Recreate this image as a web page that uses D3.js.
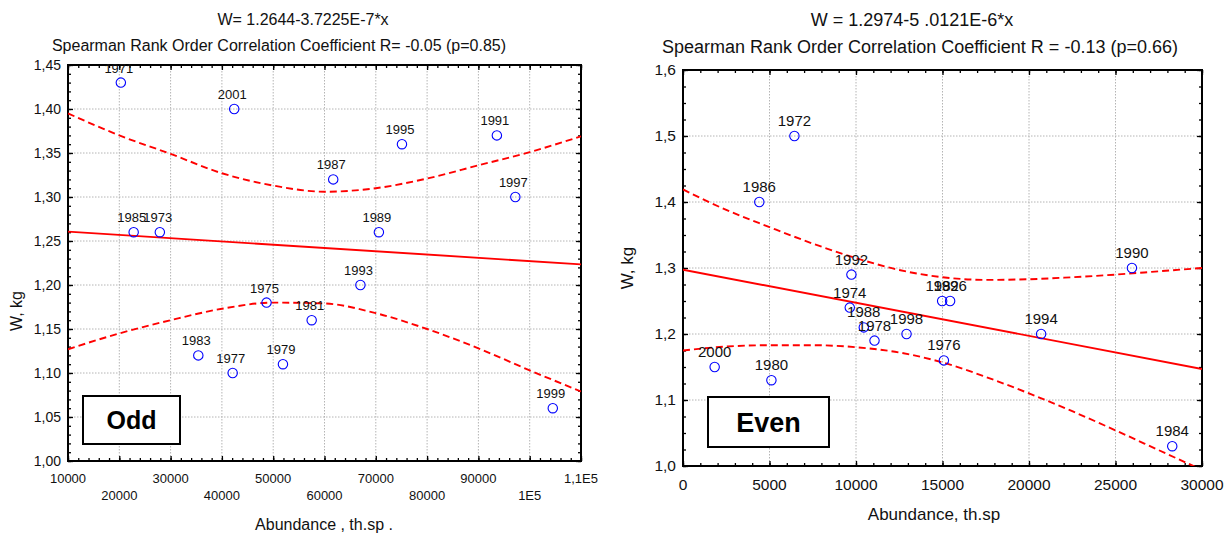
<!DOCTYPE html>
<html>
<head>
<meta charset="utf-8">
<script src="https://cdn.jsdelivr.net/npm/d3@7"></script>
<style>
  html, body { margin: 0; padding: 0; background: #fff; }
  svg { display: block; font-family: "Liberation Sans", Arial, sans-serif; }
</style>
</head>
<body>
<svg id="chart" width="1225" height="533"></svg>
<script>
// ---------------- DATA ----------------
// Odd years panel
const oddYears = ["1971","2001","1985","1973","1987","1995","1991","1997","1989","1993","1975","1981","1983","1977","1979","1999"];
const oddAbundance = [20300, 42400, 22800, 27900, 61700, 75100, 93600, 97200, 70600, 67000, 48700, 57500, 35400, 42100, 51900, 104500];
const oddWeight = [1.43, 1.40, 1.26, 1.26, 1.32, 1.36, 1.37, 1.30, 1.26, 1.20, 1.18, 1.16, 1.12, 1.10, 1.11, 1.06];
const oddIntercept = 1.2644;
const oddSlope = -3.7225e-7;
const oddBandX = [10000, 20000, 30000, 40000, 50000, 60000, 70000, 80000, 90000, 100000, 110000];
const oddBandUpper = [1.395, 1.370, 1.349, 1.327, 1.313, 1.306, 1.310, 1.321, 1.336, 1.351, 1.369];
const oddBandLower = [1.127, 1.145, 1.160, 1.173, 1.180, 1.179, 1.168, 1.150, 1.128, 1.103, 1.079];
const oddXTicks = [10000, 20000, 30000, 40000, 50000, 60000, 70000, 80000, 90000, 100000, 110000];
const oddXTickLabels = ["10000","20000","30000","40000","50000","60000","70000","80000","90000","1E5","1,1E5"];
const oddYTicks = [1.00, 1.05, 1.10, 1.15, 1.20, 1.25, 1.30, 1.35, 1.40, 1.45];
const oddYTickLabels = ["1,00","1,05","1,10","1,15","1,20","1,25","1,30","1,35","1,40","1,45"];
const oddTitle1 = "W= 1.2644-3.7225E-7*x";
const oddTitle2 = "Spearman Rank Order Correlation Coefficient R=  -0.05 (p=0.85)";
const oddXTitle = "Abundance , th.sp .";

// Even years panel
const evenYears = ["1972","1986","1992","1974","1988","1978","1998","2000","1980","1982","1996","1990","1976","1994","1984"];
const evenAbundance = [6440, 4410, 9735, 9640, 10450, 11070, 12920, 1830, 5110, 14980, 15440, 25950, 15080, 20700, 28280];
const evenWeight = [1.50, 1.40, 1.29, 1.24, 1.21, 1.19, 1.20, 1.15, 1.13, 1.25, 1.25, 1.30, 1.16, 1.20, 1.03];
const evenIntercept = 1.2974;
const evenSlope = -5.0121e-6;
const evenBandX = [0, 2500, 5000, 7500, 10000, 12500, 15000, 17500, 20000, 22500, 25000, 27500, 30000];
const evenBandUpper = [1.419, 1.388, 1.362, 1.337, 1.315, 1.297, 1.286, 1.282, 1.283, 1.286, 1.290, 1.295, 1.300];
const evenBandLower = [1.175, 1.181, 1.183, 1.183, 1.180, 1.172, 1.157, 1.135, 1.110, 1.083, 1.054, 1.024, 0.994];
const evenXTicks = [0, 5000, 10000, 15000, 20000, 25000, 30000];
const evenXTickLabels = ["0","5000","10000","15000","20000","25000","30000"];
const evenYTicks = [1.0, 1.1, 1.2, 1.3, 1.4, 1.5, 1.6];
const evenYTickLabels = ["1,0","1,1","1,2","1,3","1,4","1,5","1,6"];
const evenTitle1 = "W = 1.2974-5 .0121E-6*x";
const evenTitle2 = "Spearman Rank Order Correlation Coefficient R = -0.13 (p=0.66)";
const evenXTitle = "Abundance, th.sp";

// ---------------- DRAW ----------------
const svg = d3.select("#chart");

function drawPanel(cfg) {
  const x = d3.scaleLinear().domain(cfg.xDomain).range([cfg.left, cfg.right]);
  const y = d3.scaleLinear().domain(cfg.yDomain).range([cfg.bottom, cfg.top]);
  const g = svg.append("g");
  const w = cfg.right - cfg.left, h = cfg.bottom - cfg.top;

  const clipId = "clip" + cfg.id;
  svg.append("clipPath").attr("id", clipId)
    .append("rect").attr("x", cfg.left).attr("y", cfg.top).attr("width", w).attr("height", h);

  // grid
  const grid = g.append("g").attr("class", "grid");
  grid.selectAll("line.gx").data(cfg.xTicks.slice(1, -1)).join("line")
    .attr("x1", d => x(d)).attr("x2", d => x(d)).attr("y1", cfg.top).attr("y2", cfg.bottom)
    .attr("stroke", "#b4b4b4").attr("stroke-width", 1).attr("stroke-dasharray", "1.5,1.5");
  grid.selectAll("line.gy").data(cfg.yTicks.slice(1, -1)).join("line")
    .attr("x1", cfg.left).attr("x2", cfg.right).attr("y1", d => y(d)).attr("y2", d => y(d))
    .attr("stroke", "#b4b4b4").attr("stroke-width", 1).attr("stroke-dasharray", "1.5,1.5");

  // minor + major ticks on all four sides (inside)
  const minorX = d3.range(cfg.xDomain[0], cfg.xDomain[1] + 1e-9, cfg.xMinor);
  const minorY = d3.range(0, Math.round((cfg.yDomain[1] - cfg.yDomain[0]) / cfg.yMinor) + 1).map(i => cfg.yDomain[0] + i * cfg.yMinor);

  function styleAxis(sel) {
    sel.select(".domain").remove();
    sel.selectAll(".tick line").attr("stroke", "#000").attr("stroke-width", 1.3);
    sel.selectAll("text").remove();
  }
  g.append("g").attr("transform", `translate(0,${cfg.bottom})`)
    .call(d3.axisBottom(x).tickValues(minorX).tickSize(-3).tickFormat("")).call(styleAxis);
  g.append("g").attr("transform", `translate(0,${cfg.bottom})`)
    .call(d3.axisBottom(x).tickValues(cfg.xTicks).tickSize(-5).tickFormat("")).call(styleAxis);
  g.append("g").attr("transform", `translate(0,${cfg.top})`)
    .call(d3.axisTop(x).tickValues(minorX).tickSize(-3).tickFormat("")).call(styleAxis);
  g.append("g").attr("transform", `translate(0,${cfg.top})`)
    .call(d3.axisTop(x).tickValues(cfg.xTicks).tickSize(-5).tickFormat("")).call(styleAxis);
  g.append("g").attr("transform", `translate(${cfg.left},0)`)
    .call(d3.axisLeft(y).tickValues(minorY).tickSize(-3).tickFormat("")).call(styleAxis);
  g.append("g").attr("transform", `translate(${cfg.left},0)`)
    .call(d3.axisLeft(y).tickValues(cfg.yTicks).tickSize(-5).tickFormat("")).call(styleAxis);
  g.append("g").attr("transform", `translate(${cfg.right},0)`)
    .call(d3.axisRight(y).tickValues(minorY).tickSize(-3).tickFormat("")).call(styleAxis);
  g.append("g").attr("transform", `translate(${cfg.right},0)`)
    .call(d3.axisRight(y).tickValues(cfg.yTicks).tickSize(-5).tickFormat("")).call(styleAxis);

  // frame
  g.append("rect").attr("x", cfg.left).attr("y", cfg.top).attr("width", w).attr("height", h)
    .attr("fill", "none").attr("stroke", "#000").attr("stroke-width", 2);

  // y tick labels
  const yAx = g.append("g").attr("transform", `translate(${cfg.left},0)`)
    .call(d3.axisLeft(y).tickValues(cfg.yTicks).tickSize(0).tickPadding(cfg.yPad)
      .tickFormat((d, i) => cfg.yTickLabels[i]));
  yAx.select(".domain").remove();
  yAx.selectAll("text").attr("font-size", cfg.yTickFont).attr("fill", "#111")
    .attr("font-family", "Liberation Sans, Arial, sans-serif");

  // x tick labels (optionally staggered)
  cfg.xTicks.forEach((v, i) => {
    const row = cfg.stagger ? (i % 2) : 0;
    g.append("text").attr("x", x(v)).attr("y", cfg.xLabelY + row * cfg.staggerGap)
      .attr("text-anchor", "middle").attr("font-size", cfg.xTickFont).attr("fill", "#111")
      .text(cfg.xTickLabels[i]);
  });

  // regression line
  const plot = g.append("g").attr("clip-path", `url(#${clipId})`);
  plot.append("line")
    .attr("x1", x(cfg.xDomain[0])).attr("y1", y(cfg.intercept + cfg.slope * cfg.xDomain[0]))
    .attr("x2", x(cfg.xDomain[1])).attr("y2", y(cfg.intercept + cfg.slope * cfg.xDomain[1]))
    .attr("stroke", "#ff0000").attr("stroke-width", 1.9);

  // confidence bands
  [cfg.bandUpper, cfg.bandLower].forEach(arr => {
    const line = d3.line().x((d, i) => x(cfg.bandX[i])).y(d => y(d)).curve(d3.curveMonotoneX);
    plot.append("path").attr("d", line(arr)).attr("fill", "none")
      .attr("stroke", "#ff0000").attr("stroke-width", 1.9).attr("stroke-dasharray", "7,4");
  });

  // points
  plot.selectAll("circle.pt").data(cfg.px).join("circle")
    .attr("cx", d => x(d)).attr("cy", (d, i) => y(cfg.py[i])).attr("r", 4.7)
    .attr("fill", "none").attr("stroke", "#0000ff").attr("stroke-width", 1.1);

  // point labels
  g.selectAll("text.lbl").data(cfg.labels).join("text")
    .attr("x", (d, i) => x(cfg.px[i]) - cfg.labelDx)
    .attr("y", (d, i) => y(cfg.py[i]) - cfg.labelDy)
    .attr("text-anchor", "middle").attr("font-size", cfg.labelFont).attr("fill", "#111")
    .text(d => d);

  // legend box
  g.append("rect").attr("x", cfg.boxX).attr("y", cfg.boxY).attr("width", cfg.boxW).attr("height", cfg.boxH)
    .attr("fill", "#fff").attr("stroke", "#000").attr("stroke-width", 2);
  g.append("text").attr("x", cfg.boxX + cfg.boxW / 2).attr("y", cfg.boxY + cfg.boxH / 2 + cfg.boxFont * 0.36)
    .attr("text-anchor", "middle").attr("font-size", cfg.boxFont).attr("font-weight", "bold")
    .attr("fill", "#000").text(cfg.boxText);

  // titles
  g.append("text").attr("x", cfg.title1X).attr("y", cfg.title1Y).attr("text-anchor", "middle")
    .attr("font-size", cfg.titleFont).attr("fill", "#111").text(cfg.title1);
  g.append("text").attr("x", cfg.title2X).attr("y", cfg.title2Y).attr("text-anchor", "middle")
    .attr("font-size", cfg.titleFont).attr("fill", "#111").text(cfg.title2);

  // axis titles
  g.append("text").attr("x", cfg.xTitleX).attr("y", cfg.xTitleY).attr("text-anchor", "middle")
    .attr("font-size", cfg.axisTitleFont).attr("fill", "#111").text(cfg.xTitle);
  g.append("text").attr("transform", `translate(${cfg.yTitleX},${cfg.yTitleY}) rotate(-90)`)
    .attr("text-anchor", "middle").attr("font-size", cfg.axisTitleFont).attr("fill", "#111").text("W, kg");
}

drawPanel({
  id: "odd", left: 68, right: 581, top: 65, bottom: 461,
  xDomain: [10000, 110000], yDomain: [1.0, 1.45], xMinor: 2000, yMinor: 0.01,
  xTicks: oddXTicks, xTickLabels: oddXTickLabels, yTicks: oddYTicks, yTickLabels: oddYTickLabels,
  stagger: true, xLabelY: 483, staggerGap: 17, yPad: 7, yTickFont: 14, xTickFont: 13,
  intercept: oddIntercept, slope: oddSlope,
  bandX: oddBandX, bandUpper: oddBandUpper, bandLower: oddBandLower,
  px: oddAbundance, py: oddWeight, labels: oddYears, labelDx: 2, labelDy: 10, labelFont: 13,
  boxX: 83, boxY: 396, boxW: 97, boxH: 48, boxFont: 25, boxText: "Odd",
  title1X: 303, title2X: 279, title1Y: 25, title2Y: 51, titleFont: 16, title1: oddTitle1, title2: oddTitle2,
  xTitle: oddXTitle, xTitleX: 324, xTitleY: 530, yTitleX: 22, yTitleY: 311, axisTitleFont: 16
});

drawPanel({
  id: "even", left: 683, right: 1202, top: 70, bottom: 466,
  xDomain: [0, 30000], yDomain: [1.0, 1.6], xMinor: 1000, yMinor: 0.025,
  xTicks: evenXTicks, xTickLabels: evenXTickLabels, yTicks: evenYTicks, yTickLabels: evenYTickLabels,
  stagger: false, xLabelY: 490, staggerGap: 0, yPad: 7, yTickFont: 15.5, xTickFont: 15.5,
  intercept: evenIntercept, slope: evenSlope,
  bandX: evenBandX, bandUpper: evenBandUpper, bandLower: evenBandLower,
  px: evenAbundance, py: evenWeight, labels: evenYears, labelDx: 0, labelDy: 10, labelFont: 15,
  boxX: 708, boxY: 397, boxW: 121, boxH: 50, boxFont: 27, boxText: "Even",
  title1X: 912, title2X: 920, title1Y: 26, title2Y: 53, titleFont: 18, title1: evenTitle1, title2: evenTitle2,
  xTitle: evenXTitle, xTitleX: 934, xTitleY: 520, yTitleX: 633, yTitleY: 268, axisTitleFont: 17
});
</script>
</body>
</html>
